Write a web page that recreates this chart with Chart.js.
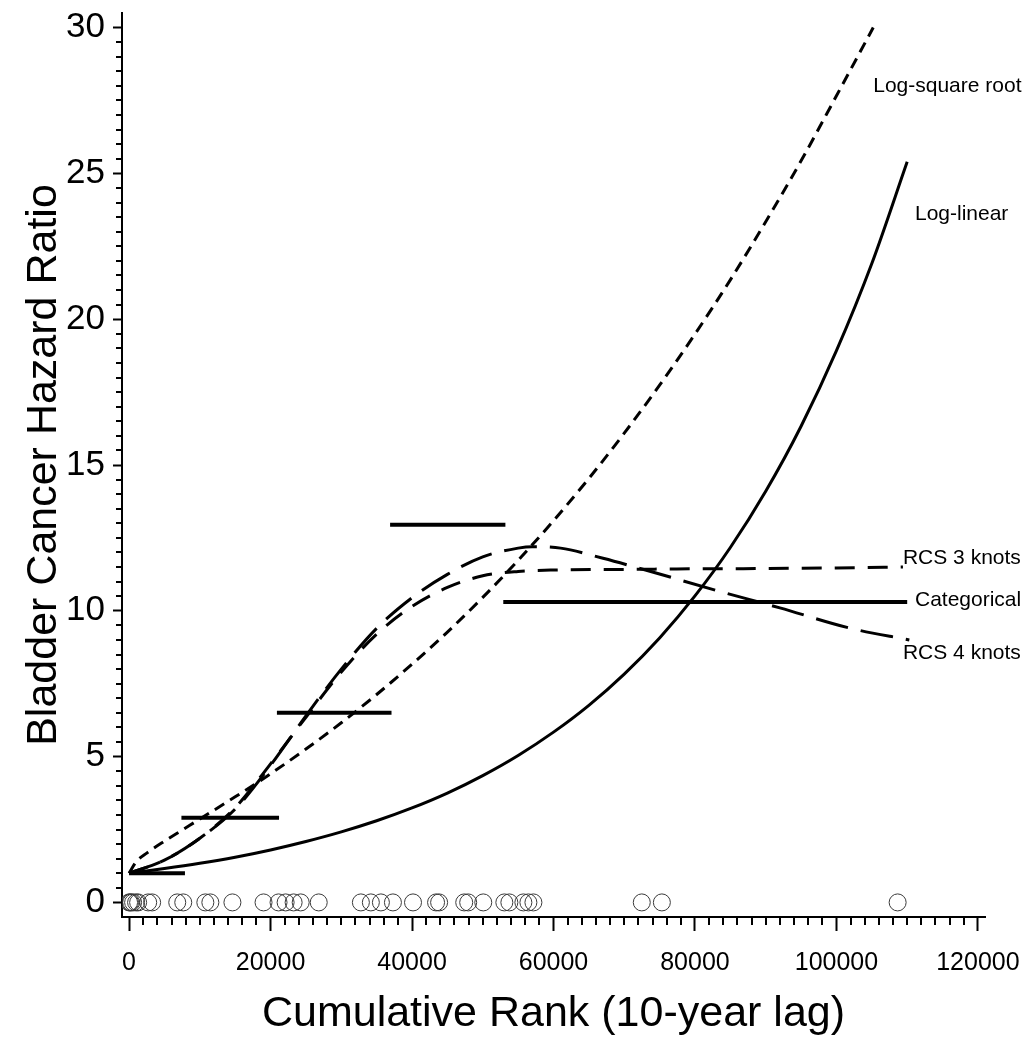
<!DOCTYPE html>
<html>
<head>
<meta charset="utf-8">
<script src="https://cdn.jsdelivr.net/npm/chart.js@4.4.1/dist/chart.umd.min.js"></script>
<style>
  html, body { margin: 0; padding: 0; background: #fff; }
  #wrap { width: 1030px; height: 1038px; position: relative; }
</style>
</head>
<body>
<div id="wrap"><canvas id="hrChart"></canvas></div>
<script>
// cumulative rank values (x) and hazard ratios (y)
var linX = [0, 5000, 10000, 15000, 20000, 25000, 30000, 35000, 40000, 45000, 50000, 55000,
            60000, 65000, 70000, 75000, 80000, 85000, 90000, 95000, 100000, 105000, 110000];
var linHR = [1.00, 1.16, 1.34, 1.55, 1.80, 2.09, 2.42, 2.80, 3.24, 3.75, 4.35, 5.04,
             5.84, 6.76, 7.83, 9.07, 10.51, 12.17, 14.10, 16.33, 18.92, 21.91, 25.4];

var sqrtX = [0, 1000, 2500, 5000, 7500, 10000, 15000, 20000, 25000, 30000, 35000, 40000, 45000,
             50000, 55000, 60000, 65000, 70000, 75000, 80000, 85000, 90000, 95000, 100000, 105200];
var sqrtHR = [1.00, 1.39, 1.69, 2.10, 2.48, 2.86, 3.62, 4.41, 5.26, 6.16, 7.13, 8.17, 9.27,
              10.46, 11.73, 13.09, 14.54, 16.09, 17.74, 19.49, 21.35, 23.34, 25.43, 27.66, 30.0];

var rcs3X = [0, 5000, 10000, 15000, 20000, 25000, 30000, 35000, 40000, 45000, 50000, 55000,
             60000, 70000, 80000, 90000, 100000, 109400];
var rcs3HR = [1.0, 1.45, 2.2, 3.25, 4.75, 6.35, 7.9, 9.2, 10.15, 10.8, 11.2, 11.35,
              11.4, 11.42, 11.44, 11.45, 11.47, 11.5];

var rcs4X = [0, 5000, 10000, 15000, 20000, 25000, 30000, 35000, 40000, 45000, 50000, 55000,
             57000, 61000, 67000, 73000, 83000, 92000, 102000, 110300];
var rcs4HR = [1.0, 1.45, 2.2, 3.2, 4.7, 6.4, 8.0, 9.4, 10.45, 11.25, 11.85, 12.15,
              12.2, 12.15, 11.8, 11.4, 10.7, 10.1, 9.4, 9.0];

// categorical model: one level per exposure category
var catStart = [0, 7400, 20900, 36900, 52900];
var catEnd = [7900, 21200, 37100, 53200, 110000];
var catHR = [1.0, 2.9, 6.5, 12.95, 10.3];

// case exposures shown as circles along HR = 0
var caseX = [0, 140, 300, 570, 990, 1280, 2700, 3260, 6810, 7660, 10780, 11490, 14610, 19010,
             21130, 22130, 23260, 24260, 26810, 32770, 34180, 35600, 37300, 40140, 43400,
             43830, 47380, 47940, 50070, 53050, 53760, 55740, 56450, 57160, 72480, 75320, 108650];

var xTicks = [0, 20000, 40000, 60000, 80000, 100000, 120000];
var yTicks = [0, 5, 10, 15, 20, 25, 30];

var curveNames = ['Log-square root', 'Log-linear', 'RCS 3 knots', 'Categorical', 'RCS 4 knots'];
var nameAt = [[105200, 28.0], [111100, 23.6], [109400, 11.82], [111100, 10.38], [109400, 8.53]];

var FONT = "'Liberation Sans', Arial, sans-serif";

function pairs(xs, ys) {
    return xs.map(function (x, i) { return { x: x, y: ys[i] }; });
}

var datasets = [];

datasets.push({
    label: 'cases',
    data: caseX.map(function (x) { return { x: x, y: 0 }; }),
    showLine: false,
    pointRadius: 8.5,
    pointStyle: 'circle',
    pointBorderColor: '#3a3a3a',
    pointBackgroundColor: 'rgba(0,0,0,0)',
    pointBorderWidth: 1
});

function curve(label, xs, ys, dash) {
    return {
        label: label,
        data: pairs(xs, ys),
        showLine: true,
        borderColor: '#000',
        borderWidth: 3,
        borderDash: dash,
        pointRadius: 0,
        cubicInterpolationMode: 'monotone',
        fill: false
    };
}

datasets.push(curve('Log-linear', linX, linHR, []));
datasets.push(curve('Log-square root', sqrtX, sqrtHR, [11, 7]));
datasets.push(curve('RCS 3 knots', rcs3X, rcs3HR, [20, 13]));
datasets.push(curve('RCS 4 knots', rcs4X, rcs4HR, [33, 13]));

for (var i = 0; i < catHR.length; i++) {
    datasets.push({
        label: 'Categorical',
        data: [{ x: catStart[i], y: catHR[i] }, { x: catEnd[i], y: catHR[i] }],
        showLine: true,
        borderColor: '#000',
        borderWidth: 4,
        pointRadius: 0,
        fill: false
    });
}

// minor tick marks and the curve names on the right
var extras = {
    id: 'extras',
    afterDraw: function (chart) {
        var ctx = chart.ctx;
        var xs = chart.scales.x, ys = chart.scales.y;
        var area = chart.chartArea;
        ctx.save();
        ctx.strokeStyle = '#000';
        ctx.lineWidth = 2;
        ctx.beginPath();
        for (var v = 2000; v < 120000; v += 2000) {
            if (v % 20000 === 0) continue;
            var px = Math.round(xs.getPixelForValue(v));
            ctx.moveTo(px, area.bottom);
            ctx.lineTo(px, area.bottom + 8);
        }
        for (var k = 1; k < 60; k++) {
            if (k % 10 === 0) continue;
            var py = Math.round(ys.getPixelForValue(k * 0.5));
            ctx.moveTo(area.left, py);
            ctx.lineTo(area.left - 6, py);
        }
        ctx.stroke();

        ctx.fillStyle = '#000';
        ctx.font = '21px ' + FONT;
        ctx.textAlign = 'left';
        ctx.textBaseline = 'middle';
        curveNames.forEach(function (name, j) {
            ctx.fillText(name, xs.getPixelForValue(nameAt[j][0]), ys.getPixelForValue(nameAt[j][1]));
        });
        ctx.restore();
    }
};

var ctx = document.getElementById('hrChart');

var hrChart = new Chart(ctx, {
    type: 'scatter',
    data: { datasets: datasets },
    plugins: [extras],
    options: {
        responsive: true,
        maintainAspectRatio: false,
        devicePixelRatio: 1,
        animation: false,
        layout: { padding: { top: 13, right: 45, bottom: 0, left: 0 } },
        plugins: {
            legend: { display: false },
            tooltip: { enabled: false }
        },
        scales: {
            x: {
                type: 'linear',
                min: -1000,
                max: 121000,
                afterBuildTicks: function (scale) {
                    scale.ticks = xTicks.map(function (v) { return { value: v }; });
                },
                afterFit: function (scale) {
                    scale.height = 121;
                    scale.paddingLeft = 0;
                    scale.paddingRight = 0;
                },
                grid: {
                    drawOnChartArea: false,
                    drawTicks: true,
                    tickLength: 14,
                    tickWidth: 2,
                    tickColor: '#000'
                },
                border: { display: true, color: '#000', width: 2 },
                ticks: {
                    color: '#000',
                    padding: 17,
                    maxRotation: 0,
                    autoSkip: false,
                    font: { family: FONT, size: 25, lineHeight: 1.2 },
                    callback: function (v) { return String(v); }
                },
                title: {
                    display: true,
                    text: 'Cumulative Rank (10-year lag)',
                    color: '#000',
                    font: { family: FONT, size: 43, lineHeight: 1 },
                    padding: { top: 0, bottom: 2 }
                }
            },
            y: {
                type: 'linear',
                min: -0.5,
                max: 30.5,
                afterBuildTicks: function (scale) {
                    scale.ticks = yTicks.map(function (v) { return { value: v }; });
                },
                afterFit: function (scale) {
                    scale.width = 122;
                    scale.paddingTop = 0;
                    scale.paddingBottom = 0;
                },
                grid: {
                    drawOnChartArea: false,
                    drawTicks: true,
                    tickLength: 9,
                    tickWidth: 2,
                    tickColor: '#000'
                },
                border: { display: true, color: '#000', width: 2 },
                ticks: {
                    color: '#000',
                    padding: 8,
                    autoSkip: false,
                    font: { family: FONT, size: 35, lineHeight: 1.2 },
                    callback: function (v) { return String(v); }
                },
                title: {
                    display: true,
                    text: 'Bladder Cancer Hazard Ratio',
                    color: '#000',
                    font: { family: FONT, size: 43, lineHeight: 1 },
                    padding: { top: 23, bottom: 0 }
                }
            }
        }
    }
});
</script>
</body>
</html>
